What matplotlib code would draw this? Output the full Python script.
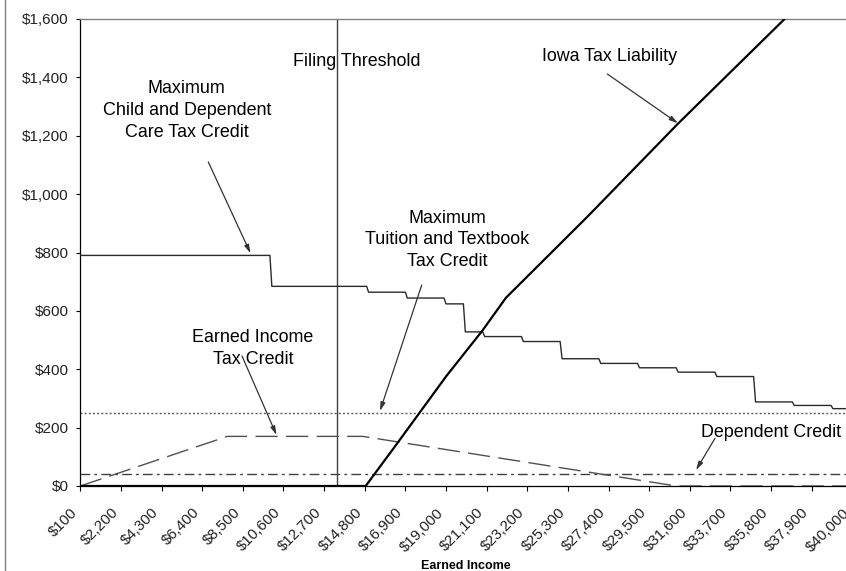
import matplotlib
matplotlib.use("Agg")
import matplotlib.pyplot as plt
from matplotlib.lines import Line2D
from matplotlib.ticker import FuncFormatter

plt.rcParams['font.family'] = ['Liberation Sans', 'DejaVu Sans']

# ---------------- data ----------------
# x tick labels (category axis, every $2,100)
tick_incomes = [100, 2200, 4300, 6400, 8500, 10600, 12700, 14800, 16900, 19000,
                21100, 23200, 25300, 27400, 29500, 31600, 33700, 35800, 37900, 40000]
y_ticks = [0, 200, 400, 600, 800, 1000, 1200, 1400, 1600]

# Maximum Child and Dependent Care Tax Credit (step function)
care_breaks = [100, 10000, 15000, 17000, 19000, 20000, 21000, 23000, 25000,
               27000, 29000, 31000, 33000, 35000, 37000, 39000]
care_values = [790, 684, 664, 644, 624, 528, 512, 495, 436,
               420, 405, 390, 375, 288, 276, 265]

# Iowa Tax Liability
liab_income = [100, 14850, 16500, 19000, 20900, 22100, 26300, 31000, 36500, 40000]
liab_values = [0, 0, 148, 375, 534, 645, 922, 1242, 1600, 1831]

# Earned Income Tax Credit
eitc_income = [100, 7700, 14700, 30900, 40000]
eitc_values = [0, 170, 170, 0, 0]

# Maximum Tuition and Textbook Tax Credit
tuition_credit = 250
# Dependent Credit
dependent_credit = 40
# Filing Threshold
filing_threshold = 13350

x_min, x_max = 100, 40000
step = 100

# ---------------- figure ----------------
W, H = 846, 571
fig = plt.figure(figsize=(W / 100, H / 100), dpi=100)
ax = fig.add_axes([80.3 / W, 85 / H, (852.3 - 80.3) / W, 467 / H])

# child care step line: step drawn between consecutive $100 categories
cx, cy = [care_breaks[0]], [care_values[0]]
for i in range(1, len(care_breaks)):
    cx += [care_breaks[i] - step, care_breaks[i]]
    cy += [care_values[i - 1], care_values[i]]
cx.append(x_max)
cy.append(care_values[-1])
ax.plot(cx, cy, color='#2a2a2a', lw=1.0, zorder=3)

# tuition (dotted) and dependent (dash-dot)
ax.plot([x_min, x_max], [tuition_credit] * 2, color='#555555', lw=1.0,
        linestyle=(0, (1.4, 1.6)), zorder=2)
ax.plot([x_min, x_max], [dependent_credit] * 2, color='#404040', lw=1.0,
        linestyle=(0, (7, 3, 2, 3)), zorder=2)

# EITC long dash
ax.plot(eitc_income, eitc_values, color='#505050', lw=1.0,
        linestyle=(0, (16, 6)), zorder=2)

# Iowa tax liability
ax.plot(liab_income, liab_values, color='black', lw=1.6, zorder=4,
        solid_joinstyle='round')

# filing threshold vertical
ax.axvline(filing_threshold, ymin=0.004, color='#404040', lw=1.0, zorder=1)

ax.set_xlim(x_min, x_max)
ax.set_ylim(0, 1600)
ax.set_xticks(tick_incomes)
ax.set_xticklabels([f"${v:,}" for v in tick_incomes], rotation=45,
                   ha='right', va='top')
ax.set_yticks(y_ticks)
ax.yaxis.set_major_formatter(FuncFormatter(lambda v, p: f"${int(v):,}"))

ax.tick_params(axis='x', direction='out', length=3.6, width=0.8, pad=10.5,
               labelsize=10.8, colors='black')
ax.tick_params(axis='y', direction='out', length=3.1, width=0.8, pad=5.5,
               labelsize=11, colors='black')
for lab in ax.get_yticklabels():
    lab.set_color('#222222')
for lab in ax.get_xticklabels():
    lab.set_color('#222222')

ax.spines['top'].set_color('#808080')
ax.spines['top'].set_linewidth(1.0)
ax.spines['right'].set_visible(False)
ax.spines['left'].set_color('black')
ax.spines['bottom'].set_color('black')
ax.spines['left'].set_linewidth(0.9)
ax.spines['bottom'].set_linewidth(0.9)

# x-axis title, centred under the full plot area (right part is cropped)
fig.text(466 / W, 1 - 565.7 / H, 'Earned Income', fontsize=9,
         fontweight='bold', ha='center', va='center')

# ---------------- annotations ----------------
def px2data(x, y):
    return (100 + (x - 80.3) * 2100 / 40.63, (486 - y) / (467 / 1600))

fs = 12.9
arrow_kw = dict(arrowstyle='-|>,head_length=0.5,head_width=0.14',
                color='#333333', lw=0.9, shrinkA=0, shrinkB=0)

def label(text, center, start=None, tip=None):
    ax.text(*px2data(*center), text, fontsize=fs, ha='center', va='center',
            multialignment='center', linespacing=1.35, zorder=5)
    if start is not None:
        ax.annotate('', xy=px2data(*tip), xytext=px2data(*start),
                    arrowprops=arrow_kw, zorder=5)

label('Filing Threshold', (357, 62))
label('Iowa Tax Liability', (609.3, 56.7), (607.3, 74), (678, 123.3))
label('Maximum\nChild and Dependent\nCare Tax Credit', (186.7, 110.5),
      (208.3, 162), (250.5, 253.3))
label('Maximum\nTuition and Textbook\nTax Credit', (447.5, 240),
      (421.7, 285), (380, 411))
label('Earned Income\nTax Credit', (252.8, 348.7), (242, 356), (276.5, 435))
label('Dependent Credit', (771, 432.7), (715, 438.3), (696, 470))

# chart-area border line on the left
fig.add_artist(Line2D([5 / W, 5 / W], [0, 1], transform=fig.transFigure,
                      color='#808080', lw=1.0))

fig.savefig('out.png', dpi=100)
